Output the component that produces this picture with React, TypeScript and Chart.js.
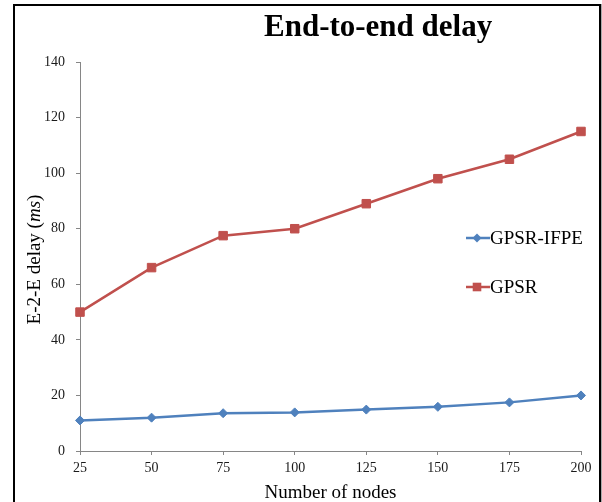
import { useEffect, useRef } from 'react';
import { Chart, registerables } from 'chart.js';

Chart.register(...registerables);

const nodeCounts = ['25', '50', '75', '100', '125', '150', '175', '200'];
const gpsrIfpeDelay = [11, 12, 13.6, 13.9, 14.9, 15.9, 17.5, 20];
const gpsrDelay = [50, 66, 77.5, 80, 89, 98, 105, 115];
const seriesNames = ['GPSR-IFPE', 'GPSR'];
const seriesColors = ['#4F81BD', '#C0504D'];
const chartTitle = 'End-to-end delay';
const xTitle = 'Number of nodes';
const yTitleParts = [
  { text: 'E-2-E delay (', italic: false },
  { text: 'ms', italic: true },
  { text: ')', italic: false },
];

const SERIF = '"Liberation Serif", "DejaVu Serif", "Times New Roman", serif';

const textPlugin = {
  id: 'customTexts',
  afterDraw(chart: any) {
    const { ctx, chartArea: a } = chart;
    ctx.save();
    ctx.fillStyle = '#000';
    ctx.textBaseline = 'alphabetic';

    // Title
    ctx.font = `bold 31px ${SERIF}`;
    ctx.textAlign = 'center';
    ctx.fillText(chartTitle, a.left + (a.right - a.left) * 0.595, 36);

    // X title
    ctx.font = `19px ${SERIF}`;
    ctx.fillText(xTitle, (a.left + a.right) / 2, 498);

    // Y title (mixed italic)
    ctx.save();
    ctx.translate(40, (a.top + a.bottom) / 2 + 3);
    ctx.rotate(-Math.PI / 2);
    ctx.textAlign = 'left';
    let total = 0;
    const widths = yTitleParts.map((p) => {
      ctx.font = `${p.italic ? 'italic ' : ''}19px ${SERIF}`;
      const w = ctx.measureText(p.text).width;
      total += w;
      return w;
    });
    let x = -total / 2;
    yTitleParts.forEach((p, i) => {
      ctx.font = `${p.italic ? 'italic ' : ''}19px ${SERIF}`;
      ctx.fillText(p.text, x, 0);
      x += widths[i];
    });
    ctx.restore();

    // Legend
    const legendYs = [238, 287];
    const lx0 = 466;
    const lx1 = 490;
    seriesNames.forEach((name, i) => {
      const y = legendYs[i];
      const c = seriesColors[i];
      ctx.strokeStyle = c;
      ctx.lineWidth = 2.5;
      ctx.beginPath();
      ctx.moveTo(lx0, y);
      ctx.lineTo(lx1, y);
      ctx.stroke();
      ctx.fillStyle = c;
      const mx = (lx0 + lx1) / 2 - 1;
      ctx.beginPath();
      if (i === 0) {
        const r = 4.5;
        ctx.moveTo(mx, y - r);
        ctx.lineTo(mx + r, y);
        ctx.lineTo(mx, y + r);
        ctx.lineTo(mx - r, y);
        ctx.closePath();
      } else {
        const s = 4.3;
        ctx.rect(mx - s, y - s, 2 * s, 2 * s);
      }
      ctx.fill();
      ctx.fillStyle = '#000';
      ctx.font = `19px ${SERIF}`;
      ctx.textAlign = 'left';
      ctx.textBaseline = 'middle';
      ctx.fillText(name, lx1, y + 1);
    });

    ctx.restore();
  },
};

export default function App() {
  const canvasRef = useRef<HTMLCanvasElement | null>(null);

  useEffect(() => {
    if (!canvasRef.current) return;
    const chart = new Chart(canvasRef.current, {
      type: 'line',
      data: {
        labels: nodeCounts,
        datasets: [
          {
            label: seriesNames[0],
            data: gpsrIfpeDelay,
            borderColor: seriesColors[0],
            backgroundColor: seriesColors[0],
            borderWidth: 2.5,
            pointStyle: 'rectRot',
            pointRadius: 4.5,
            pointBorderWidth: 1,
            tension: 0,
          },
          {
            label: seriesNames[1],
            data: gpsrDelay,
            borderColor: seriesColors[1],
            backgroundColor: seriesColors[1],
            borderWidth: 2.5,
            pointStyle: 'rect',
            pointRadius: 6,
            pointBorderWidth: 1,
            tension: 0,
          },
        ],
      },
      options: {
        responsive: false,
        animation: false,
        layout: { padding: { top: 62, right: 21, bottom: 0, left: 0 } },
        plugins: {
          legend: { display: false },
          title: { display: false },
          tooltip: { enabled: false },
        },
        scales: {
          x: {
            type: 'category',
            offset: false,
            afterFit: (s: any) => {
              s.height = 51;
            },
            grid: {
              drawOnChartArea: false,
              drawTicks: true,
              tickLength: 4,
              color: '#868686',
            },
            border: { display: true, color: '#868686', width: 1 },
            ticks: {
              color: '#1a1a1a',
              font: { family: SERIF, size: 14 },
              padding: 5,
              maxRotation: 0,
              autoSkip: false,
            },
          },
          y: {
            min: 0,
            max: 140,
            afterFit: (s: any) => {
              s.width = 80;
            },
            grid: {
              drawOnChartArea: false,
              drawTicks: true,
              tickLength: 4,
              color: '#868686',
            },
            border: { display: true, color: '#868686', width: 1 },
            ticks: {
              stepSize: 20,
              color: '#1a1a1a',
              font: { family: SERIF, size: 14 },
              padding: 11,
            },
          },
        },
      },
      plugins: [textPlugin],
    });
    return () => chart.destroy();
  }, []);

  return (
    <div
      style={{
        position: 'fixed',
        left: 0,
        top: 0,
        width: 602,
        height: 502,
        overflow: 'hidden',
        background: '#fff',
      }}
    >
      <div
        style={{
          position: 'absolute',
          left: 13,
          top: 4,
          width: 584,
          height: 540,
          border: '2px solid #000',
          boxShadow: '1px 0 0 #aaa',
        }}
      />
      <canvas
        ref={canvasRef}
        width={602}
        height={502}
        style={{ position: 'absolute', left: 0, top: 0, width: 602, height: 502 }}
      />
    </div>
  );
}
